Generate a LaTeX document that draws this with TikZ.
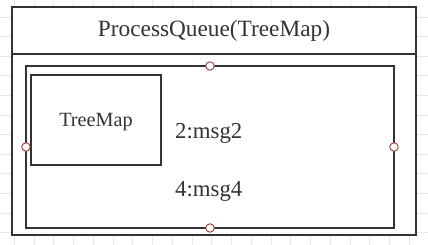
\documentclass[tikz,border=0pt]{standalone}
\usepackage{fontspec}
\setmainfont{Liberation Serif}
\definecolor{edge}{HTML}{333333}
\definecolor{gridc}{HTML}{E8E8E8}
\definecolor{portc}{HTML}{A33A3A}
\begin{document}
\begin{tikzpicture}[x=1pt,y=-1pt,
  box/.style={draw=edge,line width=2pt,fill=white,inner sep=0pt,outer sep=0pt,rectangle},
  port/.style={circle,draw=portc,line width=0.9pt,fill=white,minimum size=8.5pt,inner sep=0pt},
  lbl/.style={inner sep=0pt,text=edge}]
\useasboundingbox (0,0) rectangle (428,245);
\fill[white] (0,0) rectangle (428,245);
% background grid
\foreach \i in {0,...,21} {
  \draw[gridc,line width=0.8pt] ({34+19.75*(\i-2)},0) -- ({34+19.75*(\i-2)},245);
}
\foreach \j in {0,...,12} {
  \draw[gridc,line width=0.8pt] (0,{17+19.6*(\j-1)}) -- (428,{17+19.6*(\j-1)});
}
% outer container
\node[box,minimum width=404pt,minimum height=228pt] (outer) at (214,121) {};
\coordinate (hl) at (12,54);
\coordinate (hr) at (416,54);
\draw[edge,line width=2pt] (hl) -- (hr);
\node[lbl,anchor=base,font=\fontsize{23.3}{26}\selectfont] (title) at (214,37) {ProcessQueue(TreeMap)};
% inner box
\node[box,minimum width=368pt,minimum height=162pt] (inner) at (210,147) {};
% TreeMap box
\node[box,minimum width=130pt,minimum height=90pt] (tm) at (96,120) {};
\node[lbl,anchor=base,font=\fontsize{20.2}{24}\selectfont] (tmtext) at (96,127) {TreeMap};
\node[lbl,anchor=base west,font=\fontsize{22.8}{26}\selectfont] (m2) at (175,139) {2:msg2};
\node[lbl,anchor=base west,font=\fontsize{22.8}{26}\selectfont] (m4) at (175,197) {4:msg4};
% ports
\node[port] (pt) at (inner.north) {};
\node[port] (pb) at (inner.south) {};
\node[port] (pl) at (inner.west) {};
\node[port] (pr) at (inner.east) {};
\end{tikzpicture}
\end{document}
